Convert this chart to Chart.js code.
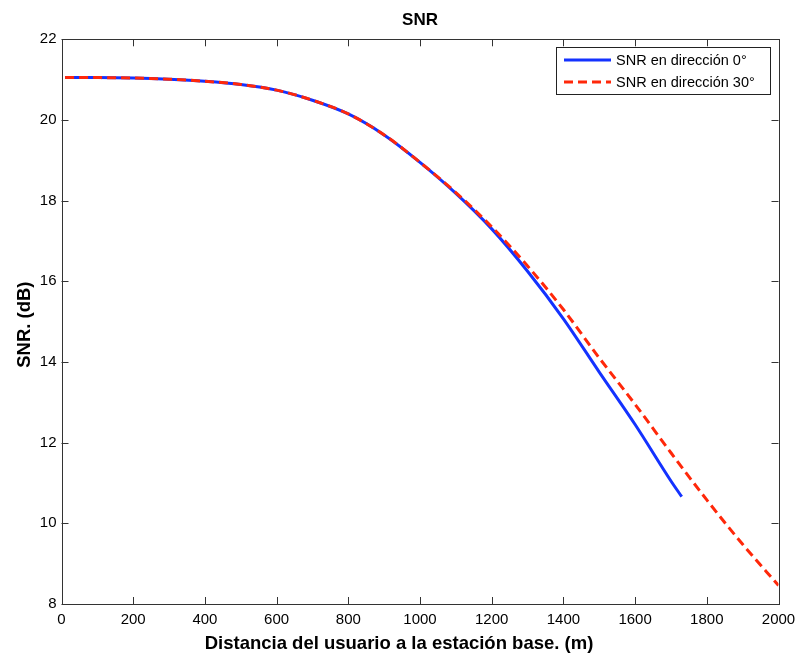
<!DOCTYPE html>
<html>
<head>
<meta charset="utf-8">
<script src="https://cdn.jsdelivr.net/npm/chart.js@4/dist/chart.umd.min.js"></script>
<style>
    html, body { margin: 0; padding: 0; background: #fff; }
    #SnrChart { display: block; }
</style>
</head>
<body>
<canvas id="SnrChart" width="796" height="657"></canvas>
<script>
// distances (m)
const Dist0 = [10, 100, 200, 300, 400, 500, 600, 700, 800, 900, 1000, 1100, 1200, 1300, 1400, 1500, 1600, 1700, 1730];
const Snr0 = [21.05, 21.05, 21.04, 21.01, 20.96, 20.88, 20.74, 20.49, 20.15, 19.63, 18.95, 18.18, 17.30, 16.25, 15.07, 13.75, 12.45, 11.05, 10.66];
const Dist30 = [10, 100, 200, 300, 400, 500, 600, 700, 800, 900, 1000, 1100, 1200, 1300, 1400, 1500, 1600, 1700, 1800, 1900, 2000];
const Snr30 = [21.05, 21.05, 21.04, 21.01, 20.96, 20.88, 20.74, 20.49, 20.15, 19.63, 18.95, 18.20, 17.35, 16.38, 15.30, 14.10, 12.95, 11.75, 10.58, 9.48, 8.46];
const SeriesLabels = ["SNR en dirección 0°", "SNR en dirección 30°"];
const XTicks = [0, 200, 400, 600, 800, 1000, 1200, 1400, 1600, 1800, 2000];
const YTicks = [8, 10, 12, 14, 16, 18, 20, 22];
const Texts = {
    title: 'SNR',
    xLabel: 'Distancia del usuario a la estación base. (m)',
    yLabel: 'SNR. (dB)'
};

const FontName = "'Liberation Sans', Arial, Helvetica, sans-serif";
const Colors = {
    blue: 'rgb(20,50,255)',
    red: 'rgb(255,40,10)',
    axis: '#333'
};

function toPoints(xs, ys) {
    return xs.map((x, i) => ({ x: x, y: ys[i] }));
}

// box around the plot with ticks pointing inwards, titles, and the legend
const matlabAxes = {
    id: 'matlabAxes',
    afterDraw(chart) {
        const ctx = chart.ctx;
        const a = chart.chartArea;
        const xs = chart.scales.x, ys = chart.scales.y;
        const len = 7;
        ctx.save();
        ctx.strokeStyle = Colors.axis;
        ctx.lineWidth = 1;
        ctx.strokeRect(Math.round(a.left) + 0.5, Math.round(a.top) + 0.5,
            Math.round(a.right - a.left), Math.round(a.bottom - a.top));
        ctx.beginPath();
        for (let v of XTicks) {
            let px = Math.round(xs.getPixelForValue(v)) + 0.5;
            ctx.moveTo(px, a.bottom); ctx.lineTo(px, a.bottom - len);
            ctx.moveTo(px, a.top); ctx.lineTo(px, a.top + len);
        }
        for (let v of YTicks) {
            let py = Math.round(ys.getPixelForValue(v)) + 0.5;
            ctx.moveTo(a.left, py); ctx.lineTo(a.left + len, py);
            ctx.moveTo(a.right, py); ctx.lineTo(a.right - len, py);
        }
        ctx.stroke();

        // titles
        ctx.fillStyle = '#000';
        ctx.textAlign = 'center';
        ctx.textBaseline = 'alphabetic';
        ctx.font = 'bold 17px ' + FontName;
        ctx.fillText(Texts.title, (a.left + a.right) / 2, 25);
        ctx.font = 'bold 18.5px ' + FontName;
        ctx.fillText(Texts.xLabel, 399, 649);
        ctx.save();
        ctx.translate(30, (a.top + a.bottom) / 2 + 3);
        ctx.rotate(-Math.PI / 2);
        ctx.fillText(Texts.yLabel, 0, 0);
        ctx.restore();

        // legend
        const box = { x: 556.5, y: 47.5, w: 214, h: 47 };
        ctx.textAlign = 'left';
        ctx.fillStyle = '#fff';
        ctx.fillRect(box.x, box.y, box.w, box.h);
        ctx.strokeStyle = '#222';
        ctx.strokeRect(box.x, box.y, box.w, box.h);
        ctx.font = '14.5px ' + FontName;
        ctx.textBaseline = 'middle';
        const rows = [60, 82];
        chart.data.datasets.forEach((ds, i) => {
            ctx.beginPath();
            ctx.strokeStyle = ds.borderColor;
            ctx.lineWidth = 3;
            ctx.setLineDash(ds.borderDash || []);
            ctx.moveTo(564, rows[i]);
            ctx.lineTo(611, rows[i]);
            ctx.stroke();
            ctx.setLineDash([]);
            ctx.fillStyle = '#000';
            ctx.fillText(ds.label, 616, rows[i] + 1);
        });
        ctx.restore();
    }
};

function setUpChart() {
    return new Chart(document.getElementById('SnrChart'), {
        type: 'line',
        data: {
            datasets: [
                {
                    label: SeriesLabels[0],
                    data: toPoints(Dist0, Snr0),
                    borderColor: Colors.blue,
                    borderWidth: 3,
                    pointRadius: 0,
                    cubicInterpolationMode: 'monotone',
                    order: 1,
                    fill: false
                },
                {
                    label: SeriesLabels[1],
                    data: toPoints(Dist30, Snr30),
                    borderColor: Colors.red,
                    borderWidth: 3,
                    borderDash: [9, 5],
                    pointRadius: 0,
                    cubicInterpolationMode: 'monotone',
                    order: 0,
                    fill: false
                }
            ]
        },
        options: {
            responsive: false,
            animation: false,
            layout: { padding: { left: 0, right: 17.5, top: 39.3, bottom: 0 } },
            plugins: {
                legend: { display: false },
                tooltip: { enabled: false },
                title: { display: false }
            },
            scales: {
                x: {
                    type: 'linear',
                    min: 0,
                    max: 2000,
                    afterFit: s => { s.height = 53; s.paddingRight = 0; },
                    afterBuildTicks: s => { s.ticks = XTicks.map(v => ({ value: v })); },
                    grid: { display: false, drawTicks: false },
                    border: { display: false },
                    ticks: {
                        color: '#000',
                        padding: 7,
                        maxRotation: 0,
                        callback: v => String(v),
                        font: { family: FontName, size: 15 }
                    },
                    title: { display: false }
                },
                y: {
                    type: 'linear',
                    min: 8,
                    max: 22,
                    afterFit: s => { s.width = 61.5; s.paddingTop = 0; },
                    afterBuildTicks: s => { s.ticks = YTicks.map(v => ({ value: v })); },
                    grid: { display: false, drawTicks: false },
                    border: { display: false },
                    ticks: {
                        color: '#000',
                        padding: 5,
                        callback: v => String(v),
                        font: { family: FontName, size: 15 }
                    },
                    title: { display: false }
                }
            }
        },
        plugins: [matlabAxes]
    });
}

window.addEventListener('load', function () {
    setUpChart();
});
</script>
</body>
</html>
